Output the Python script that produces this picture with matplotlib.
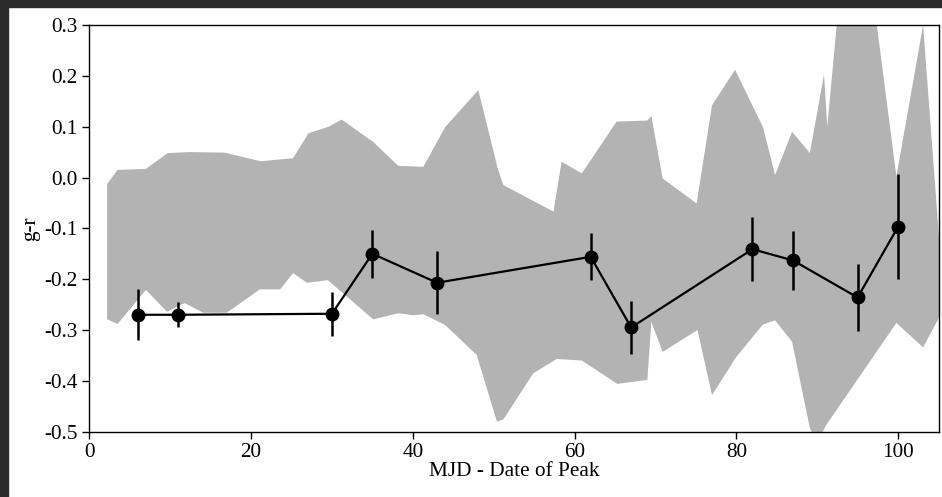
import numpy as np
import matplotlib
matplotlib.use('Agg')
import matplotlib.pyplot as plt
from matplotlib.patches import Rectangle

plt.rcParams['font.family'] = ['Liberation Serif', 'DejaVu Serif']
plt.rcParams['axes.unicode_minus'] = False

# measured colour points
days = [6, 11, 30, 35, 43, 62, 67, 82, 87, 95, 100]
g_r = [-0.270, -0.270, -0.268, -0.150, -0.207, -0.156, -0.295, -0.141, -0.163, -0.236, -0.097]
g_r_err = [0.050, 0.025, 0.043, 0.047, 0.062, 0.046, 0.053, 0.063, 0.058, 0.065, 0.103]

# model envelope, upper edge
upper_x = [2.2, 3.5, 7.0, 9.7, 12.3, 16.7, 21.2, 25.2, 27.1, 29.6, 31.2, 35.1, 38.2,
           41.3, 44.0, 48.1, 50.5, 51.2, 57.4, 58.4, 60.9, 65.2, 69.0, 69.5, 70.9,
           75.1, 77.0, 79.85, 83.3, 84.8, 86.9, 89.1, 90.85, 91.25, 94.0, 96.0,
           99.8, 103.1, 105.2]
upper_y = [-0.013, 0.015, 0.017, 0.048, 0.050, 0.049, 0.032, 0.038, 0.087, 0.100,
           0.114, 0.070, 0.023, 0.021, 0.099, 0.172, 0.018, -0.015, -0.067, 0.031,
           0.008, 0.110, 0.112, 0.121, -0.002, -0.051, 0.142, 0.212, 0.099, 0.005,
           0.090, 0.048, 0.203, 0.100, 0.57, 0.47, 0.002, 0.300, -0.145]

# model envelope, lower edge
lower_x = [2.2, 3.5, 7.0, 9.6, 11.8, 14.1, 17.0, 21.1, 23.6, 25.2, 26.9, 29.5, 35.1,
           38.2, 40.1, 41.3, 44.0, 47.9, 50.4, 51.2, 54.9, 57.8, 60.9, 65.3, 69.0,
           69.5, 70.9, 75.2, 77.0, 80.0, 83.3, 84.8, 86.9, 89.1, 90.0, 91.2, 99.8,
           103.1, 105.2]
lower_y = [-0.279, -0.288, -0.221, -0.264, -0.247, -0.266, -0.266, -0.220, -0.220,
           -0.188, -0.207, -0.202, -0.279, -0.267, -0.271, -0.269, -0.290, -0.349,
           -0.480, -0.476, -0.385, -0.357, -0.360, -0.406, -0.398, -0.284, -0.343,
           -0.300, -0.428, -0.353, -0.289, -0.281, -0.323, -0.493, -0.52, -0.485,
           -0.286, -0.334, -0.272]

yticks = [-0.5, -0.4, -0.3, -0.2, -0.1, 0.0, 0.1, 0.2, 0.3]
xticks = [0, 20, 40, 60, 80, 100]

fig = plt.figure(figsize=(9.42, 4.97), dpi=100)
ax = fig.add_axes([0.0948, 0.1314, 0.9023, 0.8183])

poly_x = np.concatenate([upper_x, lower_x[::-1]])
poly_y = np.concatenate([upper_y, lower_y[::-1]])
ax.fill(poly_x, poly_y, color='#b3b3b3', lw=0, zorder=1)

ax.errorbar(days, g_r, yerr=g_r_err, fmt='o-', color='black', ms=9, lw=1.6,
            elinewidth=1.8, capsize=0, zorder=3)

ax.set_xlim(0, 105.1)
ax.set_ylim(-0.5, 0.3)
ax.set_xticks(xticks)
ax.set_yticks(yticks)
ax.set_yticklabels(['%.1f' % v for v in yticks])
ax.tick_params(direction='out', length=5, width=1, labelsize=15.3, top=False, right=False)
ax.set_xlabel('MJD - Date of Peak', fontsize=15.3, labelpad=0)
ax.set_ylabel('g-r', fontsize=15.3, labelpad=3)
for s in ax.spines.values():
    s.set_linewidth(1.0)

# dark frame strips at top and left
fig.patches.append(Rectangle((0, 1 - 7 / 497), 1, 7 / 497, transform=fig.transFigure,
                             color='#2b2b2b', zorder=0))
fig.patches.append(Rectangle((0, 0), 8 / 942, 1, transform=fig.transFigure,
                             color='#2b2b2b', zorder=0))

fig.savefig('out.png', dpi=100)
